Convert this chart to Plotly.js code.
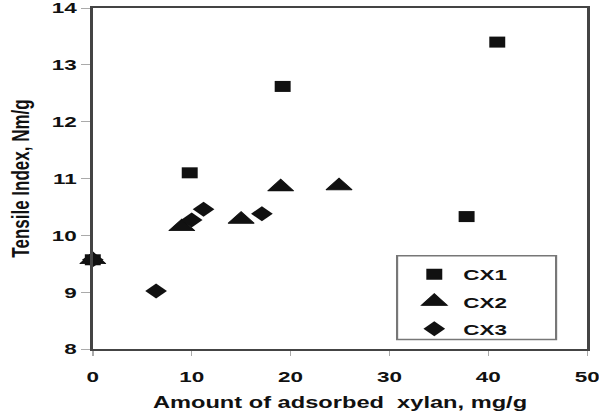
<!DOCTYPE html>
<html>
<head>
<meta charset="utf-8">
<script src="https://cdn.plot.ly/plotly-3.0.1.min.js"></script>
<style>
  html, body { margin: 0; padding: 0; background: #fff; overflow: hidden; }
  #wrap { width: 599px; height: 412px; overflow: hidden; }
  #chart { width: 413px; height: 412px; transform: scaleX(1.45); transform-origin: 0 0; }
</style>
</head>
<body>
<div id="wrap"><div id="chart"></div></div>
<script>
// Data
const seriesNames = ["CX1", "CX2", "CX3"];
const cx1X = [0, 9.8, 19.2, 37.8, 40.9];
const cx1Y = [9.57, 11.1, 12.62, 10.33, 13.4];
const cx2X = [0, 9.0, 15.0, 19.0, 24.9];
const cx2Y = [9.57, 10.15, 10.28, 10.85, 10.87];
const cx3X = [0, 6.4, 10.0, 11.2, 17.1];
const cx3Y = [9.57, 9.02, 10.27, 10.46, 10.38];
const xTicks = [0, 10, 20, 30, 40, 50];
const yTicks = [8, 9, 10, 11, 12, 13, 14];

const F = '"Liberation Sans", Arial, sans-serif';
const markerColor = '#111111';

const traces = [
  {x: cx1X, y: cx1Y, name: seriesNames[0], legendgroup: 'a',
   marker: {symbol: 'square', size: 11, color: markerColor}},
  {x: cx2X, y: cx2Y, name: seriesNames[1], legendgroup: 'b',
   marker: {symbol: 'triangle-up', size: 15.5, color: markerColor,
            line: {width: 0.8, color: markerColor}}},
  {x: cx3X, y: cx3Y, name: seriesNames[2], legendgroup: 'c',
   marker: {symbol: 'diamond', size: 11.5, color: markerColor}}
].map(t => Object.assign({type: 'scatter', mode: 'markers', cliponaxis: false}, t));

const layout = {
  width: 413, height: 412,
  margin: {l: 64, r: 8, t: 7.5, b: 62.5},
  paper_bgcolor: '#ffffff', plot_bgcolor: '#ffffff',
  showlegend: true,
  font: {family: F, color: '#111'},
  xaxis: {
    range: [0, 50], tickvals: xTicks, ticktext: xTicks.map(String),
    showgrid: false, zeroline: false,
    showline: true, linecolor: '#444', linewidth: 2, mirror: true,
    ticks: 'outside', ticklen: 5, tickwidth: 1, tickcolor: '#aaa',
    ticklabelstandoff: 7, ticklabeloverflow: 'allow',
    tickfont: {family: F, size: 15.5, weight: 'bold', color: '#111'},
    title: {text: 'Amount of adsorbed\u00a0 xylan, mg/g', standoff: 13,
            font: {family: F, size: 16.3, weight: 'bold', color: '#111'}}
  },
  yaxis: {
    range: [8, 14], tickvals: yTicks, ticktext: yTicks.map(String),
    showgrid: false, zeroline: false,
    showline: true, linecolor: '#444', linewidth: 2, mirror: true,
    ticks: 'outside', ticklen: 6, tickwidth: 1, tickcolor: '#aaa',
    ticklabeloverflow: 'allow',
    tickfont: {family: F, size: 15.5, weight: 'bold', color: '#111'},
    title: {text: 'Tensile Index, Nm/g', standoff: 11,
            font: {family: F, size: 17, weight: 600, color: '#111'}}
  },
  legend: {
    x: 0.632, y: 0.2675, xanchor: 'left', yanchor: 'top',
    xref: 'paper', yref: 'paper',
    bgcolor: 'rgba(0,0,0,0)', borderwidth: 0,
    traceorder: 'grouped', tracegroupgap: 4,
    font: {family: F, size: 15.5, weight: 'bold', color: '#111'}
  },
  shapes: [{
    type: 'rect', xref: 'paper', yref: 'paper',
    x0: 0.6154, x1: 0.937, y0: 0.0278, y1: 0.2734,
    line: {color: '#777', width: 1.5}, fillcolor: 'rgba(0,0,0,0)', layer: 'below'
  }]
};

Plotly.newPlot('chart', traces, layout, {displayModeBar: false, staticPlot: true});
</script>
</body>
</html>
